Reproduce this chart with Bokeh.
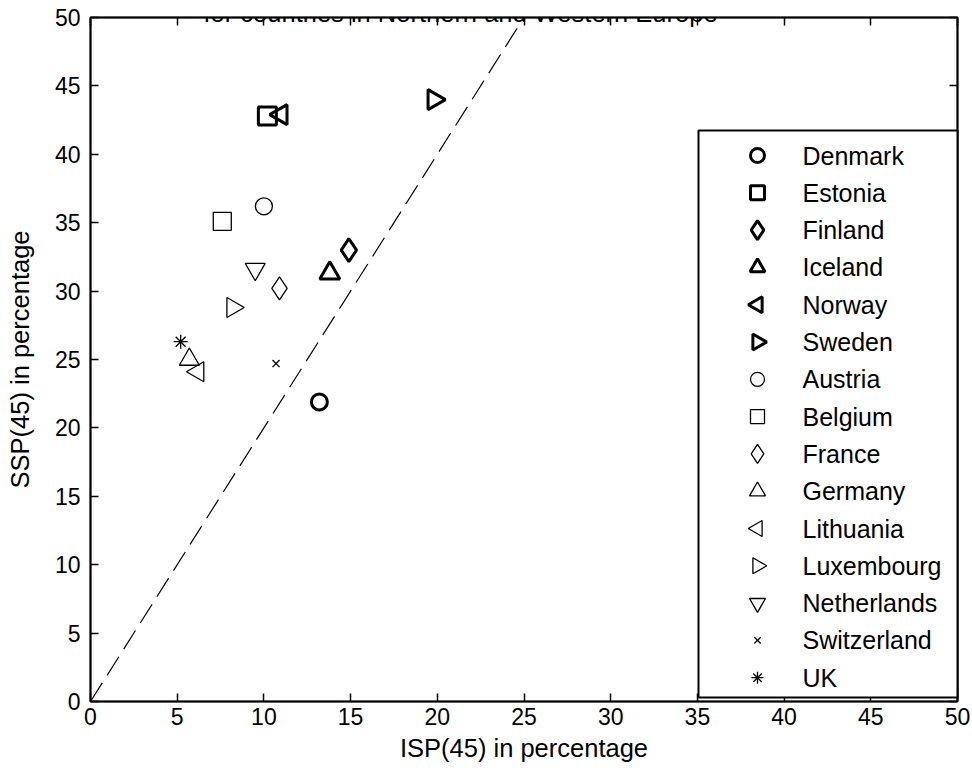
from bokeh.plotting import figure
from bokeh.models import Range1d, LinearAxis, FixedTicker, Label
from bokeh.core.properties import value
from bokeh.embed import file_html
from bokeh.resources import INLINE
import math

# ---- data ----
countries = ["Denmark", "Estonia", "Finland", "Iceland", "Norway", "Sweden",
             "Austria", "Belgium", "France", "Germany", "Lithuania",
             "Luxembourg", "Netherlands", "Switzerland", "UK"]
isp = [13.2, 10.2, 14.9, 13.8, 11.0, 19.8, 10.0, 7.6, 10.9, 5.7, 6.2,
       8.2, 9.5, 10.7, 5.2]
ssp = [21.9, 42.8, 33.0, 31.3, 42.9, 44.0, 36.2, 35.1, 30.2, 25.0, 24.1,
       28.8, 31.6, 24.7, 26.3]
ref_x = [0, 25]
ref_y = [0, 50]
tick_values = [0, 5, 10, 15, 20, 25, 30, 35, 40, 45, 50]
title_text = "for countries in Northern and Western Europe"
x_label = "ISP(45) in percentage"
y_label = "SSP(45) in percentage"

# ---- styles (marker, angle, plot size, legend size, bold) ----
styles = {
    "Denmark": ("circle", 0, 16, 14, True),
    "Estonia": ("square", 0, 18, 14, True),
    "Finland": ("diamond", 0, 23, 19, True),
    "Iceland": ("triangle", 0, 20, 15, True),
    "Norway": ("triangle", math.pi / 2, 20, 16, True),
    "Sweden": ("triangle", -math.pi / 2, 20, 16, True),
    "Austria": ("circle", 0, 17, 14, False),
    "Belgium": ("square", 0, 18, 14, False),
    "France": ("diamond", 0, 23, 19, False),
    "Germany": ("triangle", 0, 20, 16, False),
    "Lithuania": ("triangle", math.pi / 2, 20, 16, False),
    "Luxembourg": ("triangle", -math.pi / 2, 20, 16, False),
    "Netherlands": ("inverted_triangle", 0, 20, 16, False),
    "Switzerland": ("x", 0, 10, 9, False),
    "UK": ("asterisk", 0, 14, 12, False),
}

FONT = "Liberation Sans"

# ---- layout constants (pixels) ----
W, H = 970, 772
BL, BR, BT, BB = 90, 13, 17, 71
FW = W - BL - BR          # frame width  (867)
FH = H - BT - BB          # frame height (684)
# legend box, in pixels from the frame's top-left corner
LEG_L, LEG_R, LEG_T, LEG_B = 608, FW, 113, FH - 4
LEG_ROW0, LEG_STEP = 138, 37.3      # first row centre, row step
LEG_GLYPH_X, LEG_TEXT_X = 667, 712


def dx(px):
    return px / FW * 50


def dy(py):
    return (FH - py) / FH * 50


p = figure(width=W, height=H, x_range=Range1d(0, 50), y_range=Range1d(0, 50),
           output_backend="svg", toolbar_location=None,
           min_border_left=BL, min_border_right=BR, min_border_top=BT,
           min_border_bottom=BB)
p.xgrid.visible = False
p.ygrid.visible = False
p.background_fill_color = "white"
p.border_fill_color = "white"
p.outline_line_color = "black"
p.outline_line_width = 1.5


def style_axis(ax, show_labels=True):
    ax.ticker = FixedTicker(ticks=tick_values)
    ax.minor_tick_line_color = None
    ax.major_tick_in = 8
    ax.major_tick_out = 0
    ax.major_tick_line_width = 1.5
    ax.major_tick_line_color = "black"
    ax.axis_line_width = 2
    ax.axis_line_color = "black"
    ax.major_label_text_font = FONT
    ax.major_label_text_font_size = "23px"
    ax.major_label_text_color = "black"
    ax.axis_label_text_font = FONT
    ax.axis_label_text_font_size = "25.5px"
    ax.axis_label_text_font_style = "normal"
    ax.axis_label_text_color = "black"
    if not show_labels:
        ax.major_label_overrides = {t: "" for t in tick_values}
        ax.major_label_text_font_size = "0px"
        ax.major_label_standoff = 0


style_axis(p.xaxis[0])
style_axis(p.yaxis[0])
p.xaxis[0].axis_label = x_label
p.yaxis[0].axis_label = y_label
p.xaxis[0].major_label_standoff = 6
p.xaxis[0].axis_label_standoff = 6
p.yaxis[0].major_label_standoff = 10
p.yaxis[0].axis_label_standoff = 18

top_ax = LinearAxis()
style_axis(top_ax, show_labels=False)
p.add_layout(top_ax, "above")
right_ax = LinearAxis()
style_axis(right_ax, show_labels=False)
p.add_layout(right_ax, "right")

# reference line
p.line(ref_x, ref_y, line_color="black", line_width=1.2, line_dash="22 9")

# data points
for i, name in enumerate(countries):
    marker, ang, size, lsize, bold = styles[name]
    p.scatter([isp[i]], [ssp[i]], marker=marker, angle=ang, size=size,
              fill_color=None, line_color="black",
              line_width=3 if bold else 1.3)

# legend (drawn on top of axes' ticks)
p.quad(left=[dx(LEG_L)], right=[dx(LEG_R)], bottom=[dy(LEG_B)], top=[dy(LEG_T)],
       fill_color="white", line_color="black", line_width=2, level="overlay")
for i, name in enumerate(countries):
    marker, ang, size, lsize, bold = styles[name]
    ry = dy(LEG_ROW0 + LEG_STEP * i)
    p.scatter([dx(LEG_GLYPH_X)], [ry], marker=marker, angle=ang, size=lsize,
              fill_color=None, line_color="black",
              line_width=3 if bold else 1.3, level="overlay")
    p.text([dx(LEG_TEXT_X)], [ry], text=[name], text_align="left",
           text_baseline="middle", text_font=value(FONT),
           text_font_size="25px", text_color="black", level="overlay")

title = Label(x=21.34, y=50, text=title_text, text_align="center",
              text_baseline="alphabetic", y_offset=5,
              text_font=FONT, text_font_size="25.5px", text_color="black")
p.add_layout(title)

open("out.html", "w").write(file_html(p, INLINE))
